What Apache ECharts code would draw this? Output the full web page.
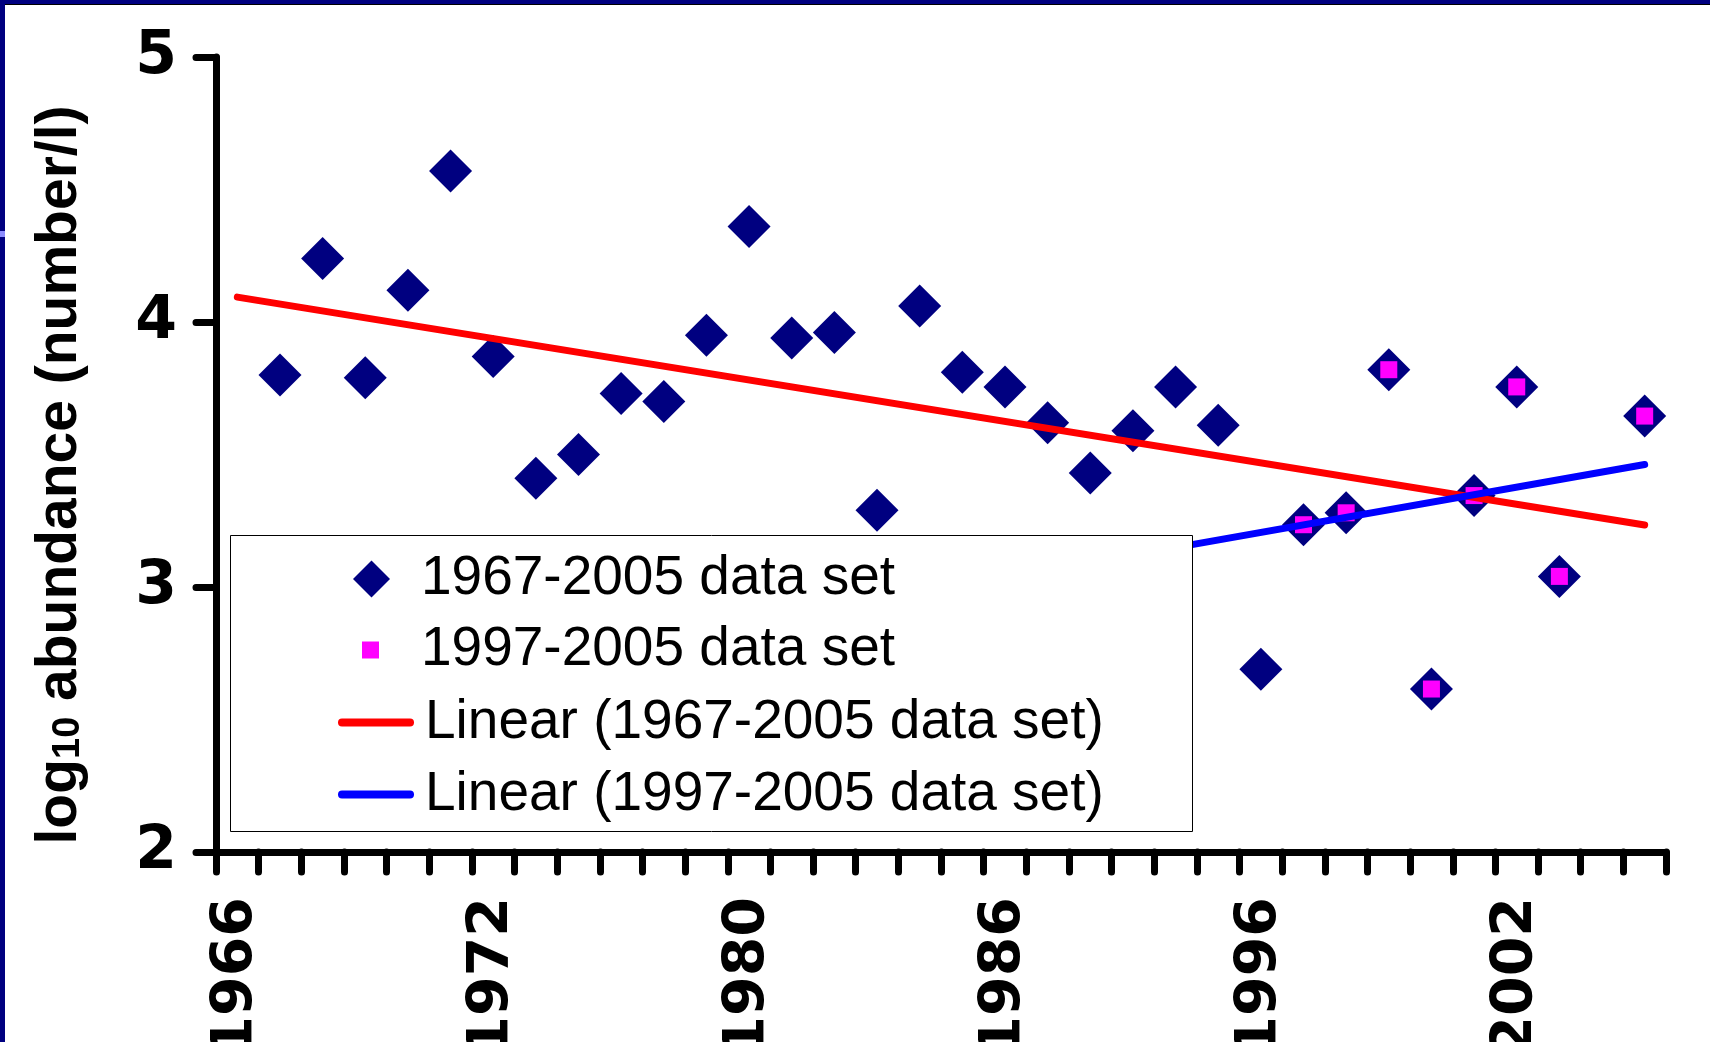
<!DOCTYPE html>
<html>
<head>
<meta charset="utf-8">
<script src="https://cdn.jsdelivr.net/npm/echarts@6/dist/echarts.min.js"></script>
<style>
html,body{margin:0;padding:0;background:#fff;}
#c{width:1710px;height:1042px;}
</style>
</head>
<body>
<div id="c"></div>
<script>
// ---- data ----
const categories = ['1966','1967','1968','1969','1970','1971','1972','1973','1974','1975','1976','1978',
  '1980','1981','1982','1983','1984','1985','1986','1988','1990','1992','1993','1994','1996',
  '1997','1998','1999','2000','2001','2002','2003','2004','2005'];
const set1967_2005 = ['-',3.80,4.24,3.79,4.12,4.57,3.87,3.41,3.50,3.73,3.70,3.95,
  4.36,3.94,3.96,3.29,4.06,3.81,3.755,3.62,3.43,3.59,3.755,3.61,2.69,
  3.235,3.28,3.82,2.615,3.345,3.755,3.04,'-',3.645];
const set1997_2005 = ['-','-','-','-','-','-','-','-','-','-','-','-',
  '-','-','-','-','-','-','-','-','-','-','-','-','-',
  3.235,3.28,3.82,2.615,3.345,3.755,3.04,'-',3.645];
const trend1967_2005 = [[0, 4.094], [33, 3.234]];
const trend1997_2005 = [[20, 3.092], [33, 3.462]];
const seriesNames = ['1967-2005 data set','1997-2005 data set',
  'Linear (1967-2005 data set)','Linear (1997-2005 data set)'];
const yMin = 2, yMax = 5, yStep = 1;

// ---- chart ----
const chart = echarts.init(document.getElementById('c'));
const legendText = (pad) => ({
  fontFamily: 'Liberation Sans', fontSize: 55, color: '#000',
  padding: [0, 0, 0, pad]
});
const axisLineStyle = {color: '#000', width: 7, cap: 'round'};

chart.setOption({
  animation: false,
  backgroundColor: '#fff',
  grid: {left: 216, right: 44, top: 57, bottom: 190, containLabel: false, outerBoundsMode: 'none'},
  xAxis: {
    type: 'category', data: categories, boundaryGap: true,
    axisLine: {show: true, lineStyle: axisLineStyle},
    axisTick: {show: true, interval: 0, length: 20, lineStyle: axisLineStyle},
    axisLabel: {interval: 5, rotate: 90, margin: 45, fontFamily: 'DejaVu Sans',
      fontWeight: 'bold', fontSize: 57, color: '#000'},
    splitLine: {show: false}
  },
  yAxis: {
    type: 'value', min: yMin, max: yMax, interval: yStep,
    axisLine: {show: true, lineStyle: axisLineStyle},
    axisTick: {show: true, length: 20, lineStyle: axisLineStyle},
    axisLabel: {margin: 39, fontFamily: 'DejaVu Sans', fontWeight: 'bold', fontSize: 60, color: '#000'},
    splitLine: {show: false},
    name: '{a|log}{s|10}{a| abundance (number/l)}',
    nameLocation: 'middle', nameRotate: 90, nameGap: 128,
    nameTextStyle: {
      color: '#000', padding: [0, 41, 0, 0], lineHeight: 56,
      rich: {
        a: {fontFamily: 'Liberation Sans', fontWeight: 'bold', fontSize: 57, lineHeight: 56, color: '#000'},
        s: {fontFamily: 'Liberation Sans', fontWeight: 'bold', fontSize: 38, lineHeight: 38,
            verticalAlign: 'bottom', color: '#000'}
      }
    }
  },
  legend: [
    {data: [seriesNames[0]], left: 353, top: 551.5, itemWidth: 37, itemHeight: 37, icon: 'diamond',
     padding: 0, selectedMode: false, z: 6, textStyle: legendText(26)},
    {data: [seriesNames[1]], left: 362, top: 622.5, itemWidth: 17, itemHeight: 17, icon: 'rect',
     padding: 0, selectedMode: false, z: 6, textStyle: legendText(37)},
    {data: [seriesNames[2]], left: 338, top: 695, itemWidth: 68, itemHeight: 8,
     padding: 0, selectedMode: false, z: 6, lineStyle: {width: 8, cap: 'round'}, textStyle: legendText(10)},
    {data: [seriesNames[3]], left: 338, top: 767, itemWidth: 68, itemHeight: 8,
     padding: 0, selectedMode: false, z: 6, lineStyle: {width: 8, cap: 'round'}, textStyle: legendText(10)}
  ],
  graphic: [
    {type: 'rect', z: 5, shape: {x: 230.5, y: 535.5, width: 962, height: 296},
     style: {fill: '#fff', stroke: '#000', lineWidth: 1}},
    {type: 'rect', z: 10, shape: {x: 0, y: 0, width: 1710, height: 4}, style: {fill: '#000080'}},
    {type: 'rect', z: 10, shape: {x: 0, y: 4, width: 1710, height: 1}, style: {fill: '#000'}},
    {type: 'rect', z: 10, shape: {x: 0, y: 0, width: 5, height: 1042}, style: {fill: '#000080'}},
    {type: 'rect', z: 10, shape: {x: 0, y: 231, width: 5, height: 6}, style: {fill: '#8c8cff'}}
  ],
  series: [
    {name: seriesNames[0], type: 'scatter', data: set1967_2005, symbol: 'diamond',
     symbolSize: 43, itemStyle: {color: '#000080', opacity: 1}},
    {name: seriesNames[1], type: 'scatter', data: set1997_2005, symbol: 'rect',
     symbolSize: 17, itemStyle: {color: '#ff00ff', opacity: 1}},
    {name: seriesNames[2], type: 'line', data: trend1967_2005, symbol: 'none', showSymbol: false,
     color: '#ff0000', lineStyle: {color: '#ff0000', width: 7, cap: 'round'}},
    {name: seriesNames[3], type: 'line', data: trend1997_2005, symbol: 'none', showSymbol: false,
     color: '#0000ff', lineStyle: {color: '#0000ff', width: 7, cap: 'round'}}
  ]
});
</script>
</body>
</html>
